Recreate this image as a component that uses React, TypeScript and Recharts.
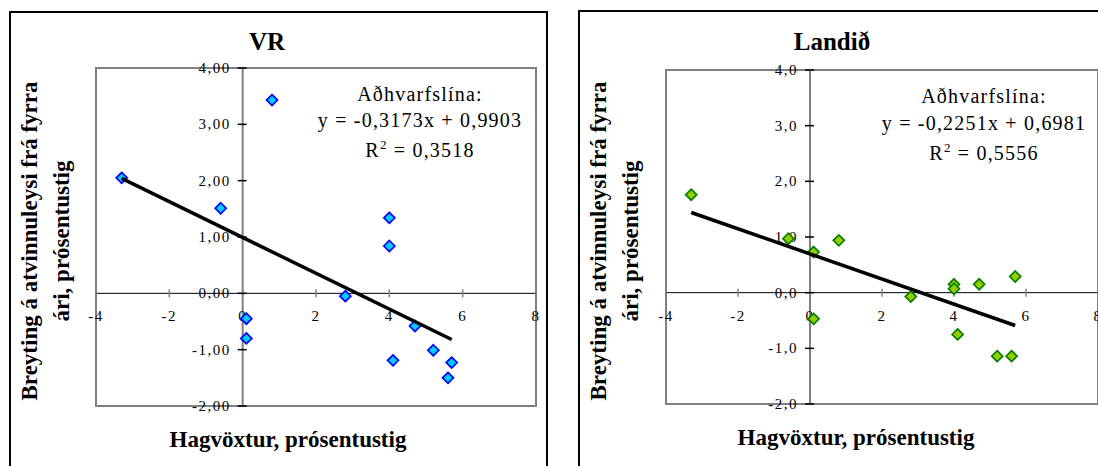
import React from "react"
import {
  ScatterChart,
  Scatter,
  XAxis,
  YAxis,
  ReferenceLine,
  ReferenceArea,
  ReferenceDot,
} from "recharts"

// hagvöxtur (x) er sá sami í báðum myndum
const growth = [-3.3, -0.6, 0.8, 0.1, 0.1, 2.8, 4.0, 4.0, 4.1, 4.7, 5.2, 5.7, 5.6]
const vrChange = [2.05, 1.51, 3.43, -0.45, -0.8, -0.05, 1.34, 0.84, -1.19, -0.58, -1.01, -1.23, -1.5]
const landChange = [1.76, 0.97, 0.94, 0.73, -0.47, -0.07, 0.15, 0.07, -0.75, 0.15, -1.14, 0.29, -1.14]

// endapunktar aðhvarfslínu, lesnir af myndinni
const vrTrend = [
  { x: -3.3, y: 2.04 },
  { x: 5.7, y: -0.82 },
]
const landTrend = [
  { x: -3.3, y: 1.44 },
  { x: 5.7, y: -0.59 },
]

const xTicks = [-4, -2, 0, 2, 4, 6, 8]
const xTickLabels = ["-4", "-2", "0", "2", "4", "6", "8"]
const yTicks = [-2, -1, 0, 1, 2, 3, 4]
const vrYTickLabels = ["-2,00", "-1,00", "0,00", "1,00", "2,00", "3,00", "4,00"]
const landYTickLabels = ["-2,0", "-1,0", "0,0", "1,0", "2,0", "3,0", "4,0"]

const vrEquation = ["Aðhvarfslína:", "y = -0,3173x + 0,9903", "0,3518"]
const landEquation = ["Aðhvarfslína:", "y = -0,2251x + 0,6981", "0,5556"]

const yAxisTitle = ["Breyting á atvinnuleysi frá fyrra", "ári, prósentustig"]
const xAxisTitle = "Hagvöxtur, prósentustig"

const serif = '"Liberation Serif", "Times New Roman", serif'
const txt = { fontFamily: serif }

type Pt = { x: number; y: number }

function toPoints(xs: number[], ys: number[]): Pt[] {
  return xs.map((x, i) => ({ x, y: ys[i] }))
}

const Diamond = (fill: string, stroke: string) => (props: any) => {
  const { cx, cy } = props
  const r = 5.5
  return (
    <polygon
      points={`${cx},${cy - r} ${cx + r},${cy} ${cx},${cy + r} ${cx - r},${cy}`}
      fill={fill}
      stroke={stroke}
      strokeWidth={1.7}
    />
  )
}

const XTick = (label: string) => (props: any) => {
  const { cx, cy } = props
  return (
    <g>
      <line x1={cx} x2={cx} y1={cy - 4} y2={cy + 4} stroke="#808080" strokeWidth={1.5} />
      <text x={cx} y={cy + 28} textAnchor="middle" style={txt} fontSize={15} letterSpacing={1.5} fill="#000">
        {label}
      </text>
    </g>
  )
}

const YTick = (label: string) => (props: any) => {
  const { cx, cy } = props
  return (
    <g>
      <line x1={cx - 5} x2={cx + 4} y1={cy} y2={cy} stroke="#000" strokeWidth={1.5} />
      <text x={cx - 12} y={cy + 5} textAnchor="end" style={txt} fontSize={15} letterSpacing={1.5} fill="#000">
        {label}
      </text>
    </g>
  )
}

interface PanelProps {
  ox: number
  width: number
  box: { x: number; y: number }
  margin: { top: number; right: number; bottom: number; left: number }
  title: string
  titlePos: { x: number; y: number }
  yLab: { x1: number; x2: number; y: number }
  xLab: { x: number; y: number }
  ann: { x: number; y: number[] }
  equation: string[]
  points: Pt[]
  trend: Pt[]
  yLabels: string[]
  fill: string
  stroke: string
}

function Panel(p: PanelProps) {
  const h = 466
  return (
    <div style={{ position: "absolute", left: p.ox, top: 0, width: p.width, height: h }}>
      <div
        style={{
          position: "absolute",
          left: p.box.x,
          top: p.box.y,
          width: 539,
          height: 520,
          border: "2px solid #000",
          boxSizing: "border-box",
          background: "#fff",
        }}
      />
      <div style={{ position: "absolute", left: 0, top: 0 }}>
        <ScatterChart width={p.width} height={h} margin={p.margin}>
          <XAxis type="number" dataKey="x" domain={[-4, 8]} allowDataOverflow hide />
          <YAxis type="number" dataKey="y" domain={[-2, 4]} allowDataOverflow hide />
          <ReferenceArea
            x1={-4}
            x2={8}
            y1={-2}
            y2={4}
            fill="none"
            stroke="#808080"
            strokeWidth={2}
            ifOverflow="visible"
          />
          <ReferenceLine x={0} stroke="#808080" strokeWidth={2} ifOverflow="visible" />
          <ReferenceLine y={0} stroke="#000" strokeWidth={1} ifOverflow="visible" />
          {xTicks.map((v, i) => (
            <ReferenceDot key={"x" + v} x={v} y={0} r={0} ifOverflow="visible" shape={XTick(xTickLabels[i])} />
          ))}
          {yTicks.map((v, i) => (
            <ReferenceDot key={"y" + v} x={0} y={v} r={0} ifOverflow="visible" shape={YTick(p.yLabels[i])} />
          ))}
          <Scatter data={p.points} shape={Diamond(p.fill, p.stroke)} isAnimationActive={false} />
          <Scatter
            data={p.trend}
            line={{ stroke: "#000", strokeWidth: 3.5 }}
            shape={() => <g />}
            isAnimationActive={false}
          />
        </ScatterChart>
      </div>
      <svg width={p.width} height={h} style={{ position: "absolute", left: 0, top: 0, pointerEvents: "none" }}>
        <text x={p.titlePos.x} y={p.titlePos.y} textAnchor="middle" style={txt} fontSize={25} fontWeight="bold">
          {p.title}
        </text>
        <text
          x={p.yLab.x1}
          y={p.yLab.y}
          textAnchor="middle"
          style={txt}
          fontSize={23}
          fontWeight="bold"
          transform={`rotate(-90, ${p.yLab.x1}, ${p.yLab.y})`}
        >
          {yAxisTitle[0]}
        </text>
        <text
          x={p.yLab.x2}
          y={p.yLab.y}
          textAnchor="middle"
          style={txt}
          fontSize={23}
          fontWeight="bold"
          transform={`rotate(-90, ${p.yLab.x2}, ${p.yLab.y})`}
        >
          {yAxisTitle[1]}
        </text>
        <text x={p.xLab.x} y={p.xLab.y} textAnchor="middle" style={txt} fontSize={23} fontWeight="bold">
          {xAxisTitle}
        </text>
        <text x={p.ann.x} y={p.ann.y[0]} textAnchor="middle" style={txt} fontSize={20} letterSpacing={1.2}>
          {p.equation[0]}
        </text>
        <text x={p.ann.x} y={p.ann.y[1]} textAnchor="middle" style={txt} fontSize={20} letterSpacing={1.2}>
          {p.equation[1]}
        </text>
        <text x={p.ann.x} y={p.ann.y[2]} textAnchor="middle" style={txt} fontSize={20} letterSpacing={1.2}>
          R
          <tspan fontSize={13} dy={-8}>
            2
          </tspan>
          <tspan dy={8}>{" = " + p.equation[2]}</tspan>
        </text>
      </svg>
    </div>
  )
}

export default function App() {
  return (
    <div
      style={{
        position: "fixed",
        left: 0,
        top: 0,
        width: 1098,
        height: 466,
        overflow: "hidden",
        background: "#fff",
      }}
    >
      <Panel
        ox={0}
        width={548}
        box={{ x: 9, y: 11 }}
        margin={{ top: 68, right: 12, bottom: 60, left: 96 }}
        title="VR"
        titlePos={{ x: 267, y: 50 }}
        yLab={{ x1: 37, x2: 69, y: 241 }}
        xLab={{ x: 288, y: 447 }}
        ann={{ x: 420, y: [101, 127, 157] }}
        equation={vrEquation}
        points={toPoints(growth, vrChange)}
        trend={vrTrend}
        yLabels={vrYTickLabels}
        fill="#00CCFF"
        stroke="#0000FF"
      />
      <Panel
        ox={570}
        width={540}
        box={{ x: 8, y: 10 }}
        margin={{ top: 70, right: 12, bottom: 62, left: 96 }}
        title="Landið"
        titlePos={{ x: 262, y: 50 }}
        yLab={{ x1: 36, x2: 68, y: 241 }}
        xLab={{ x: 286, y: 445 }}
        ann={{ x: 414, y: [103, 130, 160] }}
        equation={landEquation}
        points={toPoints(growth, landChange)}
        trend={landTrend}
        yLabels={landYTickLabels}
        fill="#99CC00"
        stroke="#008000"
      />
    </div>
  )
}
